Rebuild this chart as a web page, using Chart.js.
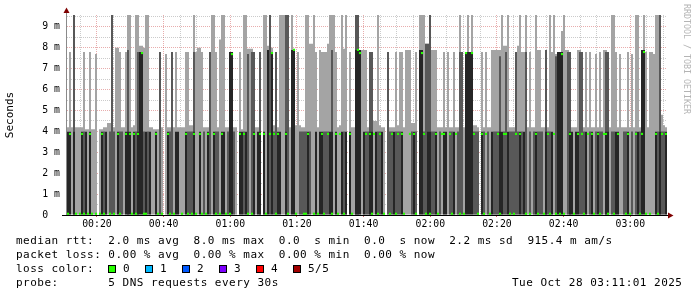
<!DOCTYPE html>
<html><head><meta charset="utf-8">
<script src="https://cdn.jsdelivr.net/npm/chart.js@4/dist/chart.umd.min.js"></script>
<style>
html,body{margin:0;padding:0;background:#fff}
#wrap{position:relative;width:697px;height:297px;overflow:hidden;background:#fff}
#c{position:absolute;left:0;top:0}
.t{position:absolute;font-family:'DejaVu Sans Mono',monospace;font-size:11px;letter-spacing:0.48px;line-height:14px;white-space:pre;color:#000}
.box{position:absolute;width:6px;height:6px;border:1px solid #000}
#brand{position:absolute;left:682px;top:4px;font-family:'DejaVu Sans Mono',monospace;font-size:8.3px;color:#b4b4b4;writing-mode:vertical-rl;white-space:pre;line-height:10px}
</style></head>
<body><div id="wrap"><canvas id="c" width="697" height="297"></canvas></div>
<script>
// ---- data ----
const startTime = 661;    // 00:11:01 (seconds after midnight)
const endTime = 11461;    // 03:11:01
const sampleStep = 36;    // seconds per column

const rttMax = [4.2,7.8,4.2,9.7,4.2,4.2,4.2,4.2,7.8,4.1,
 4.1,7.8,4.1,4.1,7.7,null,4.1,4.1,4.2,4.2,
 4.4,4.4,9.7,4.2,8.0,8.0,7.8,4.2,4.2,7.8,
 9.7,9.7,4.2,4.3,9.7,9.7,8.1,8.1,8.0,9.7,
 9.7,4.2,4.2,4.1,4.1,4.1,7.8,4.2,null,7.7,
 4.2,4.2,7.8,4.2,7.8,4.2,4.2,4.2,4.2,7.8,
 7.8,4.3,4.3,9.7,7.8,8.0,8.0,7.8,4.2,4.2,
 4.2,7.8,9.7,9.7,7.8,4.2,8.4,9.7,9.7,4.2,
 4.2,7.8,7.8,4.2,4.2,null,7.8,4.1,9.7,9.7,
 7.95,7.95,7.95,7.8,4.2,4.2,7.8,null,9.7,9.7,
 8.1,9.7,8.0,4.3,7.8,4.2,9.7,9.7,9.7,9.7,
 9.7,4.2,9.7,7.95,4.3,7.8,4.3,4.2,4.2,9.7,
 9.7,8.2,8.2,9.7,7.8,4.2,7.9,7.8,7.8,7.8,
 8.2,9.7,9.7,9.7,7.8,4.2,4.3,9.7,7.95,9.7,
 null,7.8,4.2,4.2,9.7,9.7,7.9,7.9,7.9,7.9,
 4.2,7.8,7.8,4.5,4.5,9.7,4.3,4.2,4.2,null,
 7.8,4.2,4.2,4.2,7.8,4.3,7.8,7.8,4.2,7.9,
 7.9,7.9,4.4,4.4,7.8,null,9.7,9.7,9.7,8.2,
 8.2,9.7,7.9,7.9,7.9,4.2,4.2,4.2,7.8,4.2,
 7.8,4.2,4.2,7.8,4.2,4.2,9.7,7.8,4.2,7.8,
 9.7,7.8,9.7,4.3,4.3,4.2,null,7.8,4.2,7.8,
 4.2,4.2,7.9,7.9,7.9,7.9,7.9,9.7,8.1,8.1,
 9.7,4.2,4.2,4.2,7.8,8.1,9.7,7.8,7.8,9.7,
 4.2,7.8,4.2,4.2,9.7,7.9,7.9,4.2,4.2,7.9,
 4.2,9.7,7.8,9.7,7.7,7.8,7.8,8.8,9.7,7.9,
 7.9,7.8,4.2,4.2,4.2,7.9,7.9,7.8,4.2,7.8,
 4.2,7.8,4.2,4.2,7.7,4.2,7.8,4.2,7.9,7.9,
 7.8,4.2,9.7,9.7,7.8,4.2,7.7,4.2,4.2,4.2,
 7.8,4.2,7.7,4.2,9.7,9.7,4.2,7.8,9.7,7.8,
 4.2,7.8,7.8,7.7,9.7,9.7,9.7,4.8,4.3,4.2];

const rttHigh = [null,null,null,9.7,null,null,null,null,4.0,null,
 null,null,null,null,null,null,null,null,4.0,null,
 null,4.0,9.7,4.0,null,null,4.0,4.0,null,null,
 7.9,null,null,null,4.0,7.8,null,null,4.0,null,
 4.0,null,null,null,null,null,7.8,null,null,null,
 null,4.0,7.8,null,null,null,null,null,null,null,
 4.0,4.0,4.0,7.8,null,null,null,null,4.0,null,
 null,7.8,null,null,4.0,4.0,null,null,null,null,
 4.0,null,null,4.0,null,null,null,null,4.0,null,
 7.7,null,7.8,7.8,null,null,7.8,null,null,null,
 null,9.7,null,4.0,7.8,null,null,null,null,9.7,
 9.7,null,null,null,null,null,4.0,4.0,4.0,4.0,
 null,4.0,null,null,null,null,null,null,4.0,4.0,
 4.0,null,7.9,null,null,null,null,null,4.0,null,
 null,null,null,null,9.7,9.7,null,null,null,4.0,
 4.0,7.8,7.8,null,null,4.0,4.0,null,null,null,
 7.8,4.0,4.0,null,4.0,4.0,4.0,null,null,null,
 null,null,4.0,null,4.0,null,null,null,4.0,8.2,
 8.2,9.7,4.0,4.0,null,null,4.0,null,null,null,
 null,4.0,4.0,null,null,4.0,7.8,7.8,null,null,
 null,null,null,4.0,4.0,4.0,null,null,4.0,null,
 4.0,null,null,4.0,4.0,4.0,7.6,null,4.0,7.8,
 null,4.0,4.0,4.0,7.8,4.0,null,4.0,null,7.8,
 null,4.0,null,4.0,null,4.0,4.0,4.0,null,7.9,
 4.0,4.0,null,null,7.6,null,null,null,null,null,
 7.8,7.8,null,null,null,null,7.8,7.8,4.0,null,
 null,4.0,null,null,4.0,null,4.0,4.0,null,7.8,
 7.8,null,4.0,4.0,null,null,null,null,4.0,4.0,
 null,null,4.0,null,4.0,null,4.0,null,null,null,
 null,null,null,null,null,4.0,9.7,4.0,4.0,null];

const rttCore = [3.98,3.98,null,3.98,null,null,null,3.98,null,3.98,
 null,3.98,null,null,null,null,null,3.98,null,3.98,
 null,null,null,null,null,3.98,null,null,null,3.98,
 3.98,3.98,null,3.98,null,3.98,7.8,7.8,null,3.98,
 null,3.98,null,null,3.98,null,null,null,null,null,
 3.98,null,null,null,3.98,3.98,null,null,null,3.98,
 null,null,null,3.98,null,null,3.98,null,null,null,
 3.98,null,null,3.98,null,null,null,3.98,3.98,null,
 null,7.8,7.8,null,null,null,3.98,3.98,null,3.98,
 null,null,null,3.98,null,3.98,3.98,null,3.98,null,
 7.9,null,7.8,null,null,3.98,3.98,null,null,3.98,
 null,null,7.9,7.9,null,null,null,null,null,null,
 3.98,null,null,null,3.98,null,3.98,3.98,null,null,
 null,3.98,3.98,null,3.98,null,null,3.98,null,3.98,
 null,3.98,null,null,7.9,7.9,7.9,null,3.98,null,
 null,3.98,3.98,null,3.98,null,null,3.98,null,null,
 null,null,null,3.98,null,null,null,3.98,null,null,
 null,null,null,3.98,null,null,7.9,7.9,null,null,
 3.98,3.98,null,null,3.98,null,null,null,3.98,3.98,
 null,null,null,3.98,null,null,null,null,null,7.8,
 7.8,7.8,7.8,null,null,null,null,3.98,null,null,
 null,null,3.98,null,null,null,3.98,3.98,null,null,
 3.98,null,null,null,null,null,3.98,null,3.98,null,
 null,null,null,null,3.98,null,null,null,null,3.98,
 null,null,3.98,null,null,7.8,7.8,7.8,null,null,
 null,3.98,3.98,null,3.98,3.98,null,null,null,3.98,
 null,null,3.98,null,null,3.98,null,null,null,3.98,
 3.98,null,null,null,3.98,3.98,null,null,null,null,
 3.98,null,null,null,null,3.98,null,7.9,7.9,null,
 null,null,null,null,3.98,null,3.98,null,null,3.98];

const rttMedian = [0.06,3.88,null,null,0.06,null,0.06,3.88,0.06,null,
 0.06,3.88,0.06,null,0.06,null,0.06,3.88,0.06,null,
 null,0.06,null,0.06,null,3.88,0.06,null,null,3.88,
 null,3.88,0.06,3.88,0.06,3.88,null,7.75,0.06,0.06,
 null,null,null,null,3.88,0.06,null,0.06,null,null,
 3.88,0.06,null,0.06,null,null,null,0.06,null,3.88,
 0.06,null,0.06,3.88,0.06,null,3.88,0.06,null,0.06,
 3.88,null,null,3.88,0.06,null,0.06,3.88,null,0.06,
 null,0.06,7.7,null,null,null,3.88,null,3.88,null,
 0.06,null,0.06,3.88,null,null,3.88,null,3.88,0.06,
 null,3.88,7.75,3.88,0.06,3.88,null,null,null,3.88,
 0.06,null,null,7.9,0.06,null,null,null,0.06,0.06,
 3.88,null,null,0.06,null,0.06,null,3.88,0.06,null,
 3.88,null,0.06,null,3.88,0.06,3.88,null,0.06,null,
 null,3.88,0.06,null,null,7.9,7.75,null,null,3.88,
 null,3.88,0.06,3.88,null,0.06,3.88,null,0.06,null,
 null,0.06,3.88,null,0.06,3.88,null,3.88,0.06,null,
 null,3.88,null,3.88,0.06,null,null,7.75,3.88,0.06,
 null,0.06,null,null,3.88,0.06,null,3.88,3.88,null,
 null,3.88,0.06,null,3.88,null,0.06,null,0.06,7.75,
 null,null,7.75,3.88,null,0.06,null,3.88,0.06,3.88,
 null,0.06,null,null,null,3.88,0.06,null,3.88,3.88,
 null,0.06,null,0.06,3.88,null,3.88,null,null,0.06,
 null,0.06,null,null,3.88,0.06,null,null,0.06,null,
 3.88,0.06,null,3.88,0.06,null,0.06,7.7,0.06,null,
 null,3.88,null,0.06,null,3.88,null,3.88,0.06,null,
 3.88,null,3.88,0.06,null,3.88,0.06,null,3.88,3.88,
 0.06,null,null,0.06,null,3.88,null,null,null,0.06,
 3.88,0.06,null,null,3.88,null,0.06,3.88,7.8,0.06,
 null,0.06,null,null,3.88,0.06,null,3.88,null,3.88];

const xTickLabels = ['00:20','00:40','01:00','01:20','01:40','02:00','02:20','02:40','03:00'];
const yTickLabels = ['0  ','1 m','2 m','3 m','4 m','5 m','6 m','7 m','8 m','9 m'];
const rttStats = ['2.0 ms avg','8.0 ms max','0.0  s min','0.0  s now','2.2 ms sd','915.4 m am/s'];
const lossStats = ['0.00 % avg','0.00 % max','0.00 % min','0.00 % now'];
const lossLabels = ['0','1','2','3','4','5/5'];
const lossColors = ['#26ff00','#00b8ff','#0059ff','#7e00ff','#ff0000','#a10000'];
const probeText = '5 DNS requests every 30s';
const stampText = 'Tue Oct 28 03:11:01 2025';

// ---- build ----
function band(arr) {
  const out = [];
  arr.forEach((v, i) => {
    if (v === null) return;
    out.push({x: startTime + sampleStep * (i + 0.5), y: [0, v]});
  });
  return out;
}
function points(arr) {
  const out = [];
  arr.forEach((v, i) => {
    if (v === null) return;
    out.push({x: startTime + sampleStep * (i + 0.5), y: v});
  });
  return out;
}
function hhmm(v) {
  const h = Math.floor(v / 3600), m = Math.floor((v % 3600) / 60);
  return String(h).padStart(2, '0') + ':' + String(m).padStart(2, '0');
}
const GRID = 'rgba(140,140,140,0.45)';
const MGRID = 'rgba(200,60,60,0.42)';
const mono = "'DejaVu Sans Mono', monospace";

const axisArrows = {
  id: 'axisArrows',
  afterDraw(chart) {
    const {ctx, chartArea: a} = chart;
    ctx.save();
    ctx.lineWidth = 1;
    ctx.strokeStyle = '#8a8a8a';
    ctx.beginPath(); ctx.moveTo(a.left - 0.5, a.bottom); ctx.lineTo(a.left - 0.5, a.top - 3); ctx.stroke();
    ctx.strokeStyle = '#000';
    ctx.beginPath(); ctx.moveTo(a.left - 5, a.bottom + 0.5); ctx.lineTo(a.right + 1, a.bottom + 0.5); ctx.stroke();
    ctx.fillStyle = '#7f0000';
    ctx.beginPath(); ctx.moveTo(a.left - 0.5, a.top - 7.5); ctx.lineTo(a.left - 3.5, a.top - 2); ctx.lineTo(a.left + 2.5, a.top - 2); ctx.closePath(); ctx.fill();
    ctx.beginPath(); ctx.moveTo(a.right + 6.5, a.bottom + 0.5); ctx.lineTo(a.right + 1, a.bottom - 2.5); ctx.lineTo(a.right + 1, a.bottom + 3.5); ctx.closePath(); ctx.fill();
    ctx.restore();
  }
};

const common = {type: 'bar', grouped: false, barPercentage: 1, categoryPercentage: 1, borderWidth: 0, inflateAmount: 0};
new Chart(document.getElementById('c'), {
  type: 'bar',
  data: {
    datasets: [
      {type: 'line', label: 'median', data: points(rttMedian), showLine: false, pointStyle: 'rect',
       pointRadius: 1.5, pointHoverRadius: 1.5, pointBorderWidth: 0, pointBackgroundColor: '#26ff00', borderColor: '#26ff00'},
      Object.assign({label: 'core', data: band(rttCore), backgroundColor: '#262626'}, common),
      Object.assign({label: 'inner', data: band(rttHigh), backgroundColor: '#585858'}, common),
      Object.assign({label: 'outer', data: band(rttMax), backgroundColor: '#a4a4a4'}, common)
    ]
  },
  options: {
    responsive: false, animation: false, devicePixelRatio: 1,
    layout: {padding: {left: 0, top: 15, right: 30, bottom: 62}},
    plugins: {legend: {display: false}, tooltip: {enabled: false}},
    scales: {
      x: {
        type: 'linear', min: startTime, max: endTime, offset: false, z: 1,
        afterBuildTicks: s => {
          const t = [];
          for (let v = Math.ceil(startTime / 300) * 300; v <= endTime; v += 300) t.push({value: v});
          s.ticks = t;
        },
        afterFit: s => { s.height = 20; },
        ticks: {
          autoSkip: false, maxRotation: 0, minRotation: 0, padding: 2, color: '#000',
          font: {family: mono, size: 9.8},
          callback: v => xTickLabels.includes(hhmm(v)) ? hhmm(v) : ''
        },
        grid: {
          offset: false, lineWidth: 1, drawTicks: true, tickLength: 2,
          color: c => (c.tick && c.tick.value % 1200 === 0) ? MGRID : GRID,
          tickColor: c => (c.tick && c.tick.value % 1200 === 0) ? 'rgba(200,60,60,0.8)' : 'rgba(0,0,0,0)'
        },
        border: {display: false, dash: [1, 1]}
      },
      y: {
        type: 'linear', min: 0, max: 9.57, z: 1,
        afterFit: s => { s.width = 67; },
        ticks: {
          stepSize: 0.5, maxTicksLimit: 40, includeBounds: false, autoSkip: false, padding: 7, color: '#000',
          font: {family: mono, size: 9.8},
          callback: v => Number.isInteger(v) ? yTickLabels[v] : ''
        },
        grid: {
          drawTicks: false, lineWidth: 1,
          color: c => (c.tick && Number.isInteger(c.tick.value)) ? MGRID : GRID
        },
        border: {display: false, dash: [1, 1]},
        title: {display: true, text: 'Seconds', color: '#000', font: {family: mono, size: 11}, padding: {top: 4, bottom: 0}}
      }
    }
  },
  plugins: [axisArrows]
});

// ---- legend text (real text) ----
const wrap = document.getElementById('wrap');
function txt(s, x, y) { const d = document.createElement('div'); d.className = 't'; d.textContent = s; d.style.left = x + 'px'; d.style.top = y + 'px'; wrap.appendChild(d); return d; }
txt('median rtt:  ' + rttStats.join('  '), 16, 234);
txt('packet loss: ' + lossStats.join('  '), 16, 248);
txt('loss color:', 16, 262);
lossLabels.forEach((s, i) => {
  const b = document.createElement('div'); b.className = 'box';
  b.style.left = (108 + 37 * i) + 'px'; b.style.top = '265px'; b.style.background = lossColors[i];
  wrap.appendChild(b);
  txt(s, 123 + 37 * i, 262);
});
txt('probe:       ' + probeText, 16, 276);
txt(stampText, 512, 276);
const br = document.createElement('div'); br.id = 'brand'; br.textContent = 'RRDTOOL / TOBI OETIKER'; wrap.appendChild(br);
</script></body></html>
